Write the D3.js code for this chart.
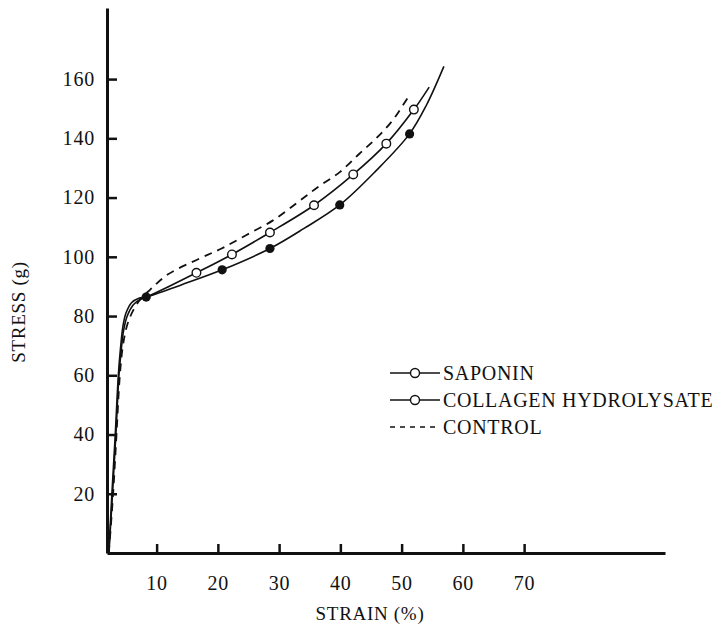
<!DOCTYPE html>
<html>
<head>
<meta charset="utf-8">
<script src="https://d3js.org/d3.v7.min.js"></script>
<style>
  body { margin: 0; background: #fff; }
  svg text { font-family: "Liberation Serif", "DejaVu Serif", serif; fill: #111; }
</style>
</head>
<body>
<div id="chart"></div>
<script>
// stress-strain curves, values (strain %, stress g)
var saponinStrain   = [2.2, 2.8, 3.35, 3.85, 4.2, 4.6, 5.2, 6.2, 7.3, 8.3, 12, 16.5, 22.3, 28.5, 35.7, 42.1, 47.5, 52.0, 54.5];
var saponinStress   = [0, 20, 40, 60, 68, 75, 80, 83.8, 85.6, 86.4, 90, 94.6, 100.8, 108.2, 117.4, 127.8, 138.2, 149.7, 157.3];
var saponinMarks    = [16.5, 22.3, 28.5, 35.7, 42.1, 47.5, 52.0];

var collagenStrain  = [2.2, 2.7, 3.25, 3.75, 4.1, 4.5, 5.0, 5.9, 7.1, 8.3, 14, 20.7, 28.5, 34, 39.9, 45.8, 51.3, 54, 56.9];
var collagenStress  = [0, 20, 40, 60, 69, 76.5, 81, 84.5, 86, 86.4, 90.5, 95.6, 102.8, 109.5, 117.5, 129, 141.5, 151, 164.3];
var collagenMarks   = [8.3, 20.7, 28.5, 39.9, 51.3];

var controlStrain   = [2.2, 2.9, 3.45, 4.0, 4.5, 5.2, 6.2, 7.5, 9, 11.8, 17, 20.6, 24.6, 29, 33.1, 36.3, 39.9, 43.1, 45.8, 48.5, 51.4];
var controlStress   = [0, 20, 40, 60, 70, 77, 82, 86, 89, 94, 99.4, 102.8, 107.3, 112.3, 118.5, 123.5, 128.6, 134.8, 139.9, 146, 155];

var xTicks = [10, 20, 30, 40, 50, 60, 70];
var yTicks = [20, 40, 60, 80, 100, 120, 140, 160];

var legendNames = ["SAPONIN", "COLLAGEN HYDROLYSATE", "CONTROL"];

var width = 716, height = 637;

var svg = d3.select("#chart").append("svg")
    .attr("width", width)
    .attr("height", height);

var x = d3.scaleLinear().domain([1.9, 93]).range([107, 665]);
var y = d3.scaleLinear().domain([0, 184]).range([553, 8]);

function pairs(xs, ys) {
  return xs.map(function (v, i) { return [v, ys[i]]; });
}
function lookup(xs, ys, v) {
  return ys[xs.indexOf(v)];
}

var line = d3.line()
    .x(function (d) { return x(d[0]); })
    .y(function (d) { return y(d[1]); })
    .curve(d3.curveCatmullRom.alpha(0.5));

// curves
svg.append("path")
    .datum(pairs(controlStrain, controlStress))
    .attr("d", line)
    .attr("fill", "none")
    .attr("stroke", "#111")
    .attr("stroke-width", 1.8)
    .attr("stroke-dasharray", "8,6");

svg.append("path")
    .datum(pairs(saponinStrain, saponinStress))
    .attr("d", line)
    .attr("fill", "none")
    .attr("stroke", "#111")
    .attr("stroke-width", 1.6);

svg.append("path")
    .datum(pairs(collagenStrain, collagenStress))
    .attr("d", line)
    .attr("fill", "none")
    .attr("stroke", "#111")
    .attr("stroke-width", 1.6);

// markers
svg.selectAll(".open")
    .data(saponinMarks)
  .enter().append("circle")
    .attr("class", "open")
    .attr("cx", function (d) { return x(d); })
    .attr("cy", function (d) { return y(lookup(saponinStrain, saponinStress, d)); })
    .attr("r", 4.3)
    .attr("fill", "#fff")
    .attr("stroke", "#111")
    .attr("stroke-width", 1.4);

svg.selectAll(".filled")
    .data(collagenMarks)
  .enter().append("circle")
    .attr("class", "filled")
    .attr("cx", function (d) { return x(d); })
    .attr("cy", function (d) { return y(lookup(collagenStrain, collagenStress, d)); })
    .attr("r", 4.6)
    .attr("fill", "#111");

// axes
var xAxis = svg.append("g")
    .attr("transform", "translate(0," + y(0) + ")")
    .call(d3.axisBottom(x).tickValues(xTicks).tickSizeInner(-9).tickSizeOuter(0).tickPadding(23));

var yAxis = svg.append("g")
    .attr("transform", "translate(" + x(1.9) + ",0)")
    .call(d3.axisLeft(y).tickValues(yTicks).tickSizeInner(-10).tickSizeOuter(0).tickPadding(12));

[xAxis, yAxis].forEach(function (g) {
  g.select(".domain").attr("stroke", "#111").attr("stroke-width", 3);
  g.selectAll(".tick line").attr("stroke", "#111").attr("stroke-width", 2.5);
  g.selectAll(".tick text")
      .attr("fill", "#111")
      .style("font-family", "'Liberation Serif', serif")
      .style("font-size", "20px")
      .style("letter-spacing", "0.8px");
});

// axis titles
svg.append("text")
    .attr("x", 370)
    .attr("y", 620)
    .attr("text-anchor", "middle")
    .style("font-size", "19px")
    .style("letter-spacing", "0.7px")
    .text("STRAIN (%)");

svg.append("text")
    .attr("transform", "translate(25,312) rotate(-90)")
    .attr("text-anchor", "middle")
    .style("font-size", "19px")
    .style("letter-spacing", "0.7px")
    .text("STRESS (g)");

// legend
var legend = svg.append("g").attr("transform", "translate(390,0)");
var rows = legendNames.map(function (name, i) { return {name: name, i: i, y: [373, 400, 427][i]}; });

legend.selectAll(".lg-line")
    .data(rows)
  .enter().append("line")
    .attr("x1", 0)
    .attr("x2", 50)
    .attr("y1", function (d) { return d.y; })
    .attr("y2", function (d) { return d.y; })
    .attr("stroke", "#111")
    .attr("stroke-width", 1.5)
    .attr("stroke-dasharray", function (d) { return d.i === 2 ? "5,5" : null; });

legend.selectAll(".lg-mark")
    .data(rows.slice(0, 2))
  .enter().append("circle")
    .attr("cx", 25)
    .attr("cy", function (d) { return d.y; })
    .attr("r", 4.5)
    .attr("fill", "#fff")
    .attr("stroke", "#111")
    .attr("stroke-width", 1.4);

legend.selectAll(".lg-text")
    .data(rows)
  .enter().append("text")
    .attr("x", 53)
    .attr("y", function (d) { return d.y + 7; })
    .style("font-size", "20px")
    .style("letter-spacing", "0.7px")
    .text(function (d) { return d.name; });
</script>
</body>
</html>
